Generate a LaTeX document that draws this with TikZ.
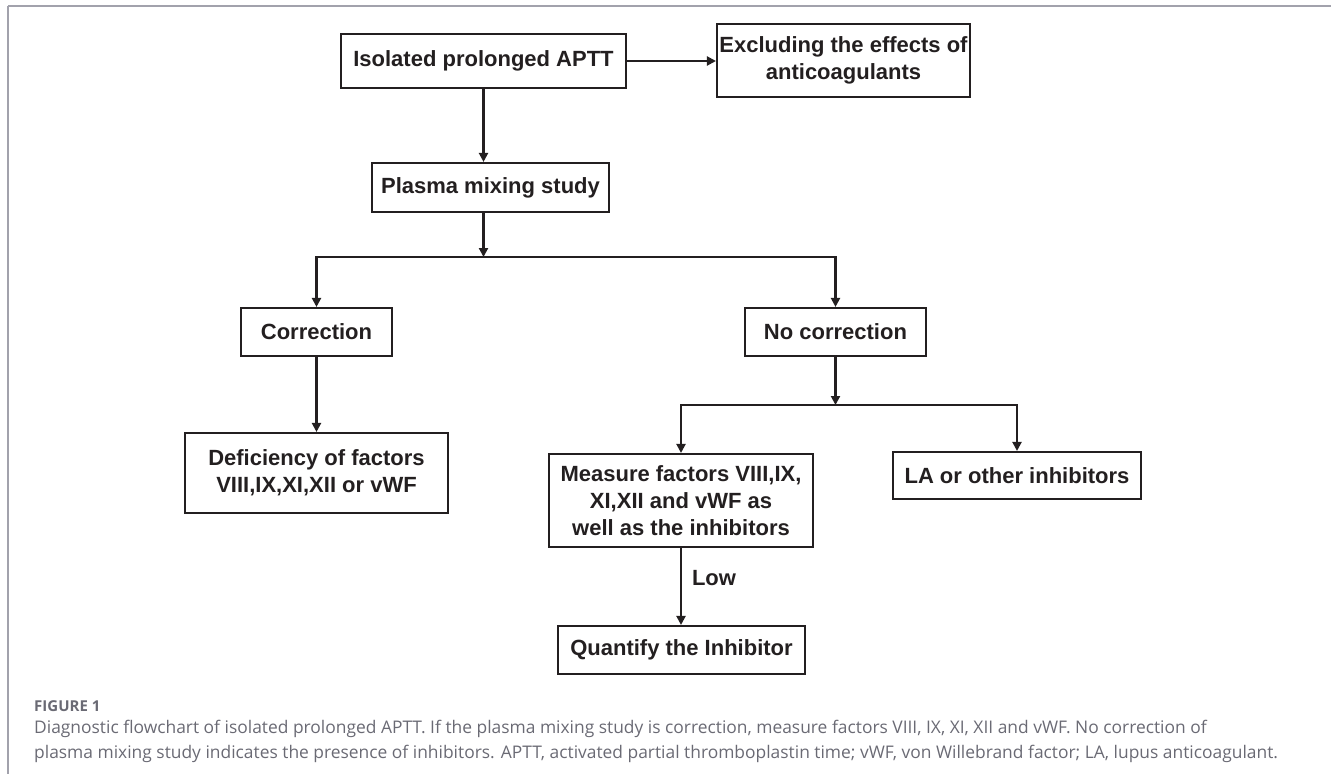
\documentclass[tikz,border=0pt]{standalone}
\usepackage{fontspec}
\setmainfont{Liberation Sans}
\newfontfamily\capfont{Open Sans}
\usetikzlibrary{arrows.meta}
\definecolor{inkdark}{HTML}{231F20}
\definecolor{bordercol}{HTML}{A2A2AC}
\definecolor{capcol}{HTML}{6A6A74}
\tikzset{
  box/.style={draw=inkdark, line width=2.1pt, inner sep=0pt, align=center, text=inkdark,
    font=\fontsize{22}{27}\selectfont\bfseries},
  arr/.style={draw=inkdark, line width=2.1pt, -{Triangle[length=9pt,width=9pt]}},
  lbl/.style={text=inkdark, font=\fontsize{22}{27}\selectfont\bfseries, inner sep=0pt},
  captext/.style={text=capcol, font=\capfont\fontsize{17.4}{22}\selectfont, anchor=west, inner sep=0pt}
}
\begin{document}
\begin{tikzpicture}[x=1pt,y=-1pt]
\useasboundingbox (0,0) rectangle (1331,774);
\draw[bordercol, line width=1.8pt] (8,6) -- (1331,6);
\draw[bordercol, line width=1.8pt] (8,6) -- (8,774);

\node[box, minimum width=285pt, minimum height=54pt] (iso) at (483.5,61) {Isolated prolonged APTT};
\node[box, minimum width=253pt, minimum height=73pt] (excl) at (843.5,60.5) {Excluding the effects of\\anticoagulants};
\node[box, minimum width=237pt, minimum height=49pt] (plasma) at (490.5,187.5) {Plasma mixing study};
\node[box, minimum width=151pt, minimum height=48pt] (corr) at (316.5,332) {Correction};
\node[box, minimum width=181pt, minimum height=48pt] (nocorr) at (835.5,332) {No correction};
\node[box, minimum width=263pt, minimum height=80pt] (defic) at (316.5,473) {Deficiency of factors\\VIII,IX,XI,XII or vWF};
\node[box, minimum width=264pt, minimum height=93pt] (measure) at (681,500.5) {Measure factors VIII,IX,\\XI,XII and vWF as\\well as the inhibitors};
\node[box, minimum width=248pt, minimum height=47pt] (la) at (1017,475.5) {LA or other inhibitors};
\node[box, minimum width=247pt, minimum height=48pt] (quant) at (681.5,650) {Quantify the Inhibitor};

\coordinate (j1) at (483.5,257);
\coordinate (j2) at (835.5,405);

\draw[arr] (iso.east) -- (excl.west |- iso.east);
\draw[arr] (iso.south) -- (iso.south |- plasma.north);
\draw[arr] (iso.south |- plasma.south) -- (j1);
\draw[arr] (j1) -| (corr.north);
\draw[arr] (j1) -| (nocorr.north);
\draw[arr] (corr.south) -- (defic.north);
\draw[arr] (nocorr.south) -- (j2);
\draw[arr] (j2) -| (measure.north);
\draw[arr] (j2) -| (la.north);
\draw[arr] (measure.south) -- (measure.south |- quant.north);
\node[lbl] (low) at (714,578) {Low};

\node[text=capcol, font=\capfont\bfseries\fontsize{15}{18}\selectfont, anchor=west, inner sep=0pt] (fig) at (34,706) {FIGURE 1};
\node[captext] (c1) at (34,729) {Diagnostic flowchart of isolated prolonged APTT. If the plasma mixing study is correction, measure factors VIII, IX, XI, XII and vWF. No correction of};
\node[captext] (c2) at (34,754) {plasma mixing study indicates the presence of inhibitors. APTT, activated partial thromboplastin time; vWF, von Willebrand factor; LA, lupus anticoagulant.};
\end{tikzpicture}
\end{document}
